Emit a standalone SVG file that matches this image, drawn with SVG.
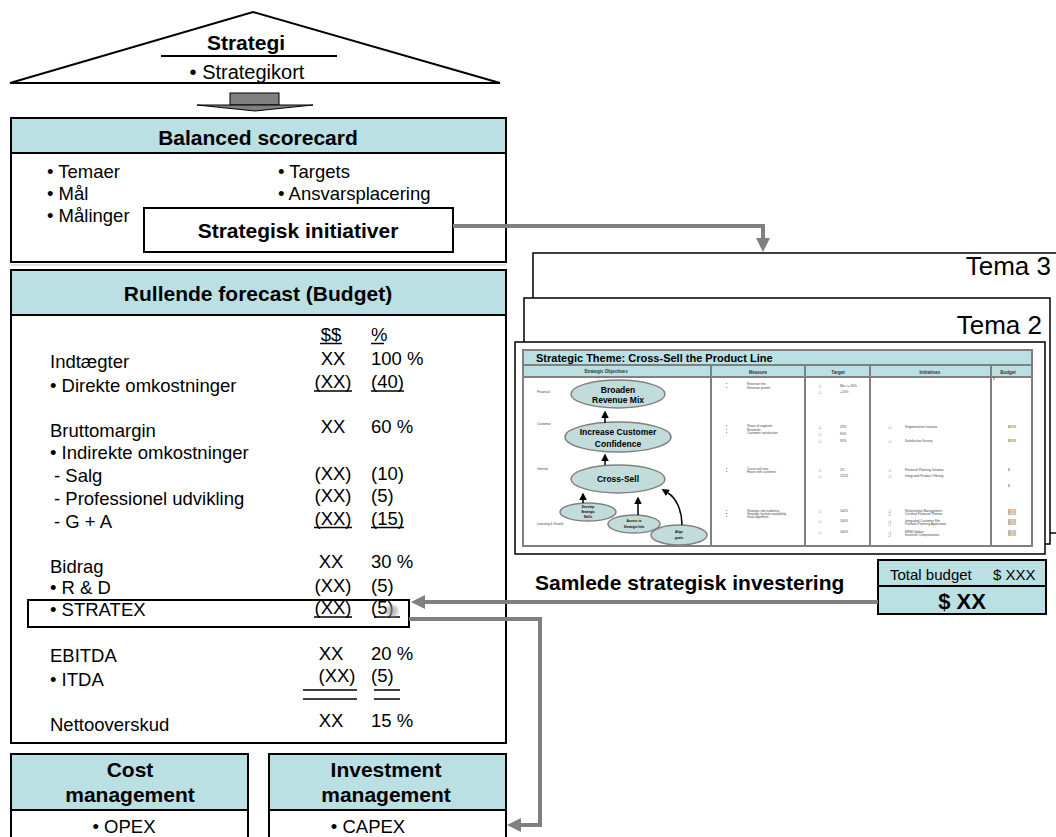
<svg xmlns="http://www.w3.org/2000/svg" width="1056" height="837" viewBox="0 0 1056 837">
<defs>
<style>
.t{font-family:"Liberation Sans",Arial,sans-serif;fill:#000}
.r{font-size:18.5px}
.h{font-size:21px;font-weight:bold}
.m{text-anchor:middle}
.e{text-anchor:end}
.box{fill:#fff;stroke:#000;stroke-width:2}
.hdr{fill:#BBE0E3;stroke:#000;stroke-width:2}
.ul{stroke:#000;stroke-width:1.5}
.conn{fill:none;stroke:#808080;stroke-width:4}
.page{fill:#fff;stroke:#000;stroke-width:1.5}
.tb{fill:none;stroke:#808080;stroke-width:2}
.tbh{fill:#BBE0E3;stroke:#808080;stroke-width:2}
.ell{fill:#C2DCDC;stroke:#808080;stroke-width:1.5}
.ob{font-weight:bold;font-size:8.5px;text-anchor:middle}
.sm{font-weight:bold;font-size:3.2px;text-anchor:middle}
.tn{font-family:"Liberation Sans","DejaVu Sans",sans-serif;font-size:3.2px;fill:#444}
.th{font-family:"Liberation Sans",Arial,sans-serif;font-size:4.5px;font-weight:bold;fill:#333;text-anchor:middle}
.blk{fill:none;stroke:#000;stroke-width:1.5}
</style>
<marker id="ga" viewBox="0 0 10 10" refX="0" refY="5" markerWidth="3.5" markerHeight="3.5" orient="auto"><path d="M0,0 L10,5 L0,10 z" fill="#808080"/></marker>
<marker id="ba" viewBox="0 0 10 10" refX="0" refY="5" markerWidth="5" markerHeight="5" orient="auto"><path d="M0,0 L10,5 L0,10 z" fill="#000"/></marker>
<filter id="blur" x="-50%" y="-50%" width="200%" height="200%"><feGaussianBlur stdDeviation="1.5"/></filter>
</defs>

<g id="strategi">
<polygon points="10,83 253,12 500,83" fill="#fff" stroke="#000" stroke-width="2"/>
<text class="t h m" x="246" y="50">Strategi</text>
<line x1="161" y1="56" x2="337" y2="56" stroke="#000" stroke-width="2"/>
<text class="t m" x="247" y="79" font-size="20">• Strategikort</text>
</g>

<g id="blockarrow">
<rect x="230" y="93" width="49" height="12" fill="#808080" stroke="#000" stroke-width="1"/>
<polygon points="197,105 313,105 255,111" fill="#808080" stroke="#000" stroke-width="1"/>
</g>

<g id="balanced-scorecard">
<rect class="box" x="11" y="118" width="495" height="144"/>
<rect class="hdr" x="11" y="118" width="495" height="35"/>
<text class="t h m" x="258" y="145">Balanced scorecard</text>
<text class="t r" x="47" y="178">• Temaer</text>
<text class="t r" x="47" y="200">• Mål</text>
<text class="t r" x="47" y="222">• Målinger</text>
<text class="t r" x="278" y="178">• Targets</text>
<text class="t r" x="278" y="200">• Ansvarsplacering</text>
</g>

<g id="strategisk-initiativer">
<rect class="box" x="144" y="208" width="309" height="44"/>
<text class="t h m" x="298" y="238">Strategisk initiativer</text>
</g>

<line x1="11" y1="265" x2="506" y2="265" stroke="#d4d4d4" stroke-width="1.5"/>

<g id="rullende-forecast">
<rect class="box" x="11" y="270" width="495" height="473"/>
<rect class="hdr" x="11" y="270" width="495" height="45"/>
<text class="t h m" x="258" y="301">Rullende forecast (Budget)</text>
<g class="t r">
<text x="50" y="368">Indtægter</text>
<text x="50" y="392">• Direkte omkostninger</text>
<text x="50" y="437">Bruttomargin</text>
<text x="50" y="459">• Indirekte omkostninger</text>
<text x="54" y="482">- Salg</text>
<text x="54" y="505">- Professionel udvikling</text>
<text x="54" y="528">- G + A</text>
<text x="50" y="573">Bidrag</text>
<text x="50" y="594">• R &amp; D</text>
<text x="50" y="616">• STRATEX</text>
<text x="50" y="662">EBITDA</text>
<text x="50" y="686">• ITDA</text>
<text x="50" y="731">Nettooverskud</text>
</g>
<g class="t r m">
<text x="331" y="341">$$</text>
<text x="333" y="365">XX</text>
<text x="333" y="388">(XX)</text>
<text x="333" y="433">XX</text>
<text x="333" y="480">(XX)</text>
<text x="333" y="502">(XX)</text>
<text x="333" y="525">(XX)</text>
<text x="331" y="568">XX</text>
<text x="333" y="592">(XX)</text>
<text x="333" y="614">(XX)</text>
<text x="331" y="660">XX</text>
<text x="337" y="682">(XX)</text>
<text x="331" y="727">XX</text>
</g>
<g class="t r">
<text x="371" y="341">%</text>
<text x="371" y="365">100 %</text>
<text x="371" y="388">(40)</text>
<text x="371" y="433">60 %</text>
<text x="371" y="480">(10)</text>
<text x="371" y="502">(5)</text>
<text x="371" y="525">(15)</text>
<text x="371" y="568">30 %</text>
<text x="371" y="592">(5)</text>
<text x="371" y="614">(5)</text>
<text x="371" y="660">20 %</text>
<text x="371" y="682">(5)</text>
<text x="371" y="727">15 %</text>
</g>
<g class="ul">
<line x1="320" y1="343.5" x2="342" y2="343.5"/>
<line x1="371" y1="343.5" x2="384" y2="343.5"/>
<line x1="314" y1="391" x2="352" y2="391"/>
<line x1="371" y1="391" x2="404" y2="391"/>
<line x1="314" y1="527.5" x2="352" y2="527.5"/>
<line x1="371" y1="527.5" x2="404" y2="527.5"/>
<line x1="314" y1="617" x2="352" y2="617"/>
<line x1="374" y1="617" x2="400" y2="617"/>
<line x1="303" y1="690" x2="357" y2="690"/>
<line x1="303" y1="699" x2="357" y2="699"/>
<line x1="374" y1="690" x2="400" y2="690"/>
<line x1="374" y1="699" x2="400" y2="699"/>
</g>
<circle cx="392" cy="611" r="6" fill="#999" opacity="0.6" filter="url(#blur)"/>
</g>

<g id="stratex-box">
<rect x="28" y="600" width="381" height="27" fill="none" stroke="#000" stroke-width="2"/>
</g>

<g id="cost-management">
<rect class="box" x="11" y="754" width="237" height="95"/>
<rect class="hdr" x="11" y="754" width="237" height="56"/>
<text class="t h m" x="130" y="777">Cost</text>
<text class="t h m" x="130" y="802">management</text>
<text class="t r m" x="124" y="833">• OPEX</text>
</g>

<g id="investment-management">
<rect class="box" x="269" y="754" width="237" height="95"/>
<rect class="hdr" x="269" y="754" width="237" height="56"/>
<text class="t h m" x="386" y="777">Investment</text>
<text class="t h m" x="386" y="802">management</text>
<text class="t r m" x="368" y="833">• CAPEX</text>
</g>

<g id="tema3">
<rect class="page" x="533" y="253" width="540" height="280"/>
<text class="t e" x="1051" y="275" font-size="26">Tema 3</text>
</g>

<g id="tema2">
<rect class="page" x="524" y="298" width="526" height="246"/>
<text class="t e" x="1042" y="334" font-size="26">Tema 2</text>
</g>

<g id="tema1">
<rect class="page" x="515" y="342" width="530" height="212"/>
<rect class="tbh" x="523" y="350" width="509" height="15"/>
<rect class="tbh" x="523" y="365" width="509" height="12"/>
<rect class="tb" x="523" y="350" width="509" height="196"/>
<g class="tb">
<line x1="711" y1="365" x2="711" y2="546"/>
<line x1="805" y1="365" x2="805" y2="546"/>
<line x1="870" y1="365" x2="870" y2="546"/>
<line x1="991" y1="365" x2="991" y2="546"/>
</g>
<text class="t" x="536" y="362" font-size="11" font-weight="bold">Strategic Theme: Cross-Sell the Product Line</text>
<text class="th" x="606" y="373">Strategic Objectives</text>
<text class="th" x="758" y="374">Measure</text>
<text class="th" x="838" y="374">Target</text>
<text class="th" x="930" y="374">Initiatives</text>
<text class="th" x="1008" y="374">Budget</text>
<text class="tn" x="993" y="380">$</text>

<g class="tn">
<text x="537" y="393">Financial</text>
<text x="537" y="425">Customer</text>
<text x="537" y="470">Internal</text>
<text x="537" y="525">Learning &amp; Growth</text>

<text x="726" y="385">•</text><text x="747" y="385">Revenue mix</text>
<text x="726" y="389">•</text><text x="747" y="389">Revenue growth</text>
<text x="726" y="427">•</text><text x="747" y="427">Share of segment</text>
<text x="726" y="431">•</text><text x="747" y="431">Retention</text>
<text x="726" y="434">•</text><text x="747" y="434">Customer satisfaction</text>
<text x="726" y="470">•</text><text x="747" y="470">Cross-sell ratio</text>
<text x="726" y="473">•</text><text x="747" y="473">Hours with customer</text>
<text x="726" y="512">•</text><text x="747" y="512">Strategic job readiness</text>
<text x="726" y="515">•</text><text x="747" y="515">Strategic system availability</text>
<text x="726" y="518">•</text><text x="747" y="518">Goal alignment</text>

<text x="818" y="387">❑</text><text x="840" y="387">Mix &gt;= 30%</text>
<text x="818" y="393">❑</text><text x="840" y="393">+20%</text>
<text x="818" y="428">❑</text><text x="840" y="428">25%</text>
<text x="818" y="435">❑</text><text x="840" y="435">90%</text>
<text x="818" y="442">❑</text><text x="840" y="442">95%</text>
<text x="818" y="471">❑</text><text x="840" y="471">2/1</text>
<text x="818" y="477">❑</text><text x="840" y="477">15/25</text>
<text x="818" y="512">❑</text><text x="840" y="512">100%</text>
<text x="818" y="522">❑</text><text x="840" y="522">100%</text>
<text x="818" y="533">❑</text><text x="840" y="533">100%</text>

<text x="888" y="428">❑</text><text x="905" y="428">Segmentation Initiative</text>
<text x="888" y="442">❑</text><text x="905" y="442">Satisfaction Survey</text>
<text x="888" y="471">❑</text><text x="905" y="471">Financial Planning Initiative</text>
<text x="888" y="477">❑</text><text x="905" y="477">Integrated Product Offering</text>
<text x="888" y="512">❑</text><text x="905" y="512">Relationship Management</text>
<text x="888" y="515">❑</text><text x="905" y="515">Certified Financial Planner</text>
<text x="888" y="522">❑</text><text x="905" y="522">Integrated Customer File</text>
<text x="888" y="525">❑</text><text x="905" y="525">Portfolio Planning Application</text>
<text x="888" y="533">❑</text><text x="905" y="533">MRM Update</text>
<text x="888" y="536">❑</text><text x="905" y="536">Incentive Compensation</text>

<text x="1008" y="428">$XXX</text>
<text x="1008" y="442">$XXX</text>
<text x="1008" y="471">$</text>
<text x="1008" y="487">$</text>
<text x="1008" y="512">$XXX</text>
<text x="1008" y="515">$XXX</text>
<text x="1008" y="522">$XXX</text>
<text x="1008" y="525">$XXX</text>
<text x="1008" y="533">$XXX</text>
<text x="1008" y="536">$XXX</text>
</g>

<ellipse class="ell" cx="618" cy="394" rx="47" ry="14"/>
<text class="t ob" x="618" y="393">Broaden</text>
<text class="t ob" x="618" y="403">Revenue Mix</text>
<ellipse class="ell" cx="618" cy="437" rx="53" ry="15"/>
<text class="t ob" x="618" y="435">Increase Customer</text>
<text class="t ob" x="618" y="447">Confidence</text>
<ellipse class="ell" cx="618" cy="479" rx="47" ry="14"/>
<text class="t ob" x="618" y="482" font-size="9.5">Cross-Sell</text>
<ellipse class="ell" cx="588" cy="512" rx="28" ry="9"/>
<text class="t sm" x="588" y="508">Develop</text>
<text class="t sm" x="588" y="513">Strategic</text>
<text class="t sm" x="588" y="518">Skills</text>
<ellipse class="ell" cx="634" cy="524" rx="26" ry="9"/>
<text class="t sm" x="634" y="522">Access  to</text>
<text class="t sm" x="634" y="528">Strategic Info</text>
<ellipse class="ell" cx="679" cy="535" rx="28" ry="10"/>
<text class="t sm" x="679" y="533">Align</text>
<text class="t sm" x="679" y="539">goals</text>

<path class="blk" d="M605,423 V418" marker-end="url(#ba)"/>
<path class="blk" d="M605,465 V461" marker-end="url(#ba)"/>
<path class="blk" d="M583,503 V500" marker-end="url(#ba)"/>
<path class="blk" d="M638,515 V504" marker-end="url(#ba)"/>
<path class="blk" d="M682,525 C682,510 676,498 668,493" marker-end="url(#ba)"/>
</g>

<g id="samlede">
<text class="t h" x="535" y="590" font-size="21.5">Samlede strategisk investering</text>
</g>

<g id="total-budget">
<rect class="hdr" x="878" y="560" width="168" height="54"/>
<line x1="878" y1="586" x2="1046" y2="586" stroke="#000" stroke-width="2"/>
<text class="t" x="890" y="580" font-size="15">Total budget</text>
<text class="t" x="993" y="580" font-size="15">$ XXX</text>
<text class="t m" x="962" y="609" font-size="22" font-weight="bold">$ XX</text>
</g>

<g id="connectors">
<path class="conn" d="M453,226 H763 V238" marker-end="url(#ga)"/>
<path class="conn" d="M878,602 H425" marker-end="url(#ga)"/>
<path class="conn" d="M409,619 H540 V825 H521" marker-end="url(#ga)"/>
</g>
</svg>
